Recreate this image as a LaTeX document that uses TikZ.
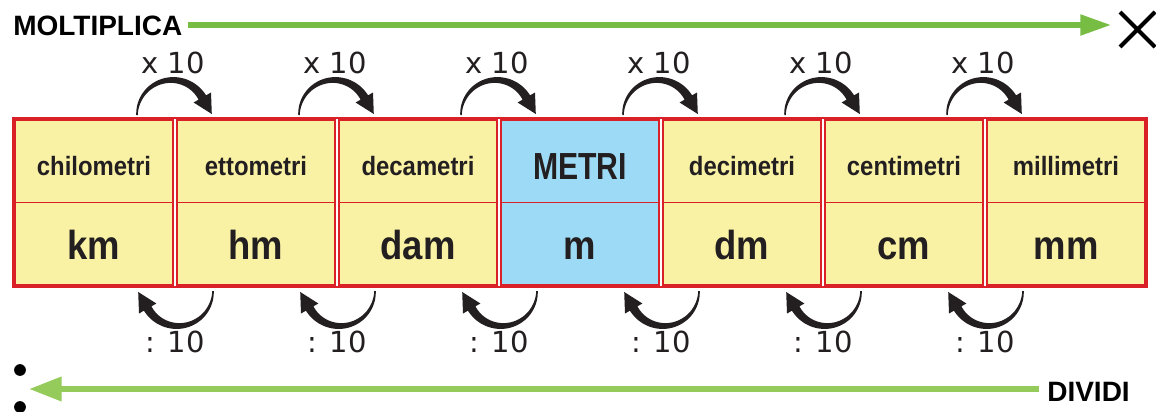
\documentclass[tikz,border=0pt]{standalone}
\usepackage{fontspec}
\usepackage{graphicx}
\usetikzlibrary{arrows.meta}
\newfontfamily\labelfont{Liberation Sans}
\newfontfamily\numfont{DejaVu Sans}
\definecolor{cellyellow}{RGB}{249,242,165}
\definecolor{cellblue}{RGB}{157,218,245}
\definecolor{cellred}{RGB}{218,33,40}
\definecolor{ink}{RGB}{35,31,32}
\definecolor{greentop}{RGB}{119,188,67}
\definecolor{greenbot}{RGB}{149,203,90}
\tikzset{
  cellbox/.style={draw=cellred, line width=1.9pt, minimum width=118.2pt, minimum height=124.5pt, inner sep=0pt},
  divider/.style={draw=cellred, line width=0.8pt},
  hdr/.style={anchor=base, inner sep=0pt, text=ink, font=\labelfont\bfseries},
  unit/.style={anchor=base, inner sep=0pt, text=ink, font=\labelfont\bfseries\fontsize{30.4pt}{34pt}\selectfont},
  factor/.style={anchor=base, inner sep=0pt, text=ink, font=\numfont\fontsize{21.75pt}{24pt}\selectfont},
  titletext/.style={inner ysep=0pt, text=black, font=\labelfont\bfseries\fontsize{21pt}{24pt}\selectfont},
  pics/turnarrow/.style={code={
    \fill[ink] plot[domain=180:30,samples=45,variable=\t]
      ({-3+(35+(0.75+3.6*(180-\t)/150))*cos(\t)},{-88-(35+(0.75+3.6*(180-\t)/150))*sin(\t)})
      -- (36.0,-110.5) -- (36.8,-89.0) -- (18.6,-100.5)
      -- plot[domain=30:180,samples=45,variable=\t]
      ({-3+(35-(0.75+3.6*(180-\t)/150))*cos(\t)},{-88-(35-(0.75+3.6*(180-\t)/150))*sin(\t)})
      -- cycle;
  }}
}
\begin{document}
\begin{tikzpicture}[x=0.75pt,y=-0.75pt]
\useasboundingbox (0,0) rectangle (1156,411);
% outer frame
\draw[cellred, line width=1.5pt] (13,118) rectangle (1147,287);
% cells
\foreach \i/\nm/\un/\fc/\fs/\sx/\by in {
  0/chilometri/km/cellyellow/19.9/0.9/175,
  1/ettometri/hm/cellyellow/19.9/0.9/175,
  2/decametri/dam/cellyellow/19.9/0.9/175,
  3/METRI/m/cellblue/28.3/0.8/179.3,
  4/decimetri/dm/cellyellow/19.9/0.9/175,
  5/centimetri/cm/cellyellow/19.9/0.9/175,
  6/millimetri/mm/cellyellow/19.9/0.9/175}{
  \pgfmathsetmacro{\cx}{94+162*\i}
  \node[cellbox, fill=\fc] (cell\i) at (\cx,202.5) {};
  \draw[divider] (cell\i.west) -- (cell\i.east);
  \node[hdr] (name\i) at (\cx,\by) {\fontsize{\fs pt}{\fs pt}\selectfont\scalebox{\sx}[1]{\nm}};
  \node[unit] (unit\i) at (\cx,259) {\scalebox{0.9}[1]{\un}};
}
% factor arrows
\foreach \k in {0,...,5}{
  \pgfmathsetmacro{\b}{175+162*\k}
  \pic (ta\k) at (\b,203) {turnarrow};
  \pic[rotate=180] (ba\k) at (\b,203) {turnarrow};
  \node[factor] (up\k) at (\b-2,73) {x 10};
  \node[factor] (dn\k) at (\b,352) {: 10};
}
% MOLTIPLICA arrow
\node[titletext, anchor=base west, inner xsep=3.75pt] (molt) at (8,35) {MOLTIPLICA};
\coordinate (mend) at (1111,25);
\draw[greentop, line width=3.9pt, -{Triangle[length=23pt, width=15pt]}] (mend -| molt.east) -- (mend);
\draw[black, line width=3pt] (1120,12) -- (1155,47) (1155,12) -- (1120,47);
% DIVIDI arrow
\node[titletext, anchor=base east, inner xsep=6pt] (divi) at (1138,401.7) {DIVIDI};
\coordinate (dend) at (29,389);
\draw[greenbot, line width=4.5pt, -{Triangle[length=24.5pt, width=17.5pt]}] (dend -| divi.west) -- (dend);
\fill[black] (20,370) circle[radius=4.4pt] (20,407) circle[radius=4.4pt];
\end{tikzpicture}
\end{document}
